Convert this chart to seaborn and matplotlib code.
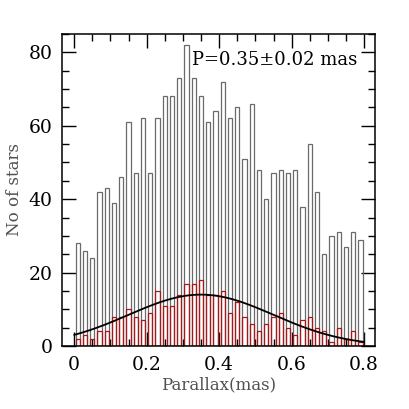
import numpy as np
import pandas as pd
import matplotlib.pyplot as plt
from matplotlib.ticker import MultipleLocator
import seaborn as sns

# parallax bins (left edges, mas), 0.02 wide
bin_left = [round(0.02 * i, 2) for i in range(40)]
bin_edges = [round(0.02 * i, 2) for i in range(41)]

# all stars per bin
all_counts = [28, 26, 24, 42, 43, 39, 46, 61, 47, 62,
              47, 62, 68, 68, 73, 82, 73, 68, 61, 64,
              72, 62, 65, 51, 66, 48, 40, 47, 48, 47,
              48, 38, 55, 42, 25, 30, 31, 27, 31, 29]

# selected stars per bin (red)
sel_counts = [2, 3, 2, 4, 4, 8, 8, 10, 8, 7,
              9, 15, 11, 11, 14, 17, 17, 18, 14, 14,
              15, 9, 12, 8, 6, 4, 6, 8, 9, 5,
              3, 7, 8, 5, 4, 1, 5, 2, 4, 1]

# gaussian fit
fit_mean = 0.35
fit_sigma = 0.20
fit_peak = 14.0

df = pd.DataFrame({'parallax': bin_left, 'all': all_counts, 'sel': sel_counts})

sns.set_theme(style="ticks")
plt.rcParams['font.family'] = ['DejaVu Serif']

fig = plt.figure(figsize=(4.09, 4.09), dpi=100)
ax = fig.add_axes([0.152, 0.154, 0.765, 0.763])

sns.histplot(data=df, x='parallax', weights='all', bins=bin_edges, shrink=0.6,
             fill=False, color='#6a6a6a', linewidth=0.9, ax=ax)
sns.histplot(data=df, x='parallax', weights='sel', bins=bin_edges, shrink=0.6,
             fill=False, color='#a81818', linewidth=0.9, ax=ax)

xs = np.linspace(0, 0.8, 200)
fit = pd.DataFrame({'x': xs, 'y': fit_peak * np.exp(-(xs - fit_mean) ** 2 / (2 * fit_sigma ** 2))})
sns.lineplot(data=fit, x='x', y='y', color='black', linewidth=1.3, ax=ax)

ax.text(0.325, 78, 'P=0.35±0.02 mas', fontsize=13, ha='left', va='center', color='black')

ax.set_xlim(-0.033, 0.83)
ax.set_ylim(0, 85)
ax.xaxis.set_major_locator(MultipleLocator(0.2))
ax.xaxis.set_minor_locator(MultipleLocator(0.05))
ax.yaxis.set_major_locator(MultipleLocator(20))
ax.yaxis.set_minor_locator(MultipleLocator(5))
ax.set_xticks([0, 0.2, 0.4, 0.6, 0.8])
ax.set_xticklabels(['0', '0.2', '0.4', '0.6', '0.8'])
ax.tick_params(which='both', direction='in', top=True, right=True, width=1,
               color='black', labelcolor='black')
ax.tick_params(which='major', length=10, labelsize=13.5, pad=7)
ax.tick_params(which='minor', length=5)
for s in ax.spines.values():
    s.set_linewidth(1.1)
    s.set_color('black')

ax.set_xlabel('Parallax(mas)', fontsize=12, color='#505050', labelpad=2)
ax.set_ylabel('No of stars', fontsize=12, color='#505050', labelpad=4)

fig.savefig('out.png', dpi=100)
